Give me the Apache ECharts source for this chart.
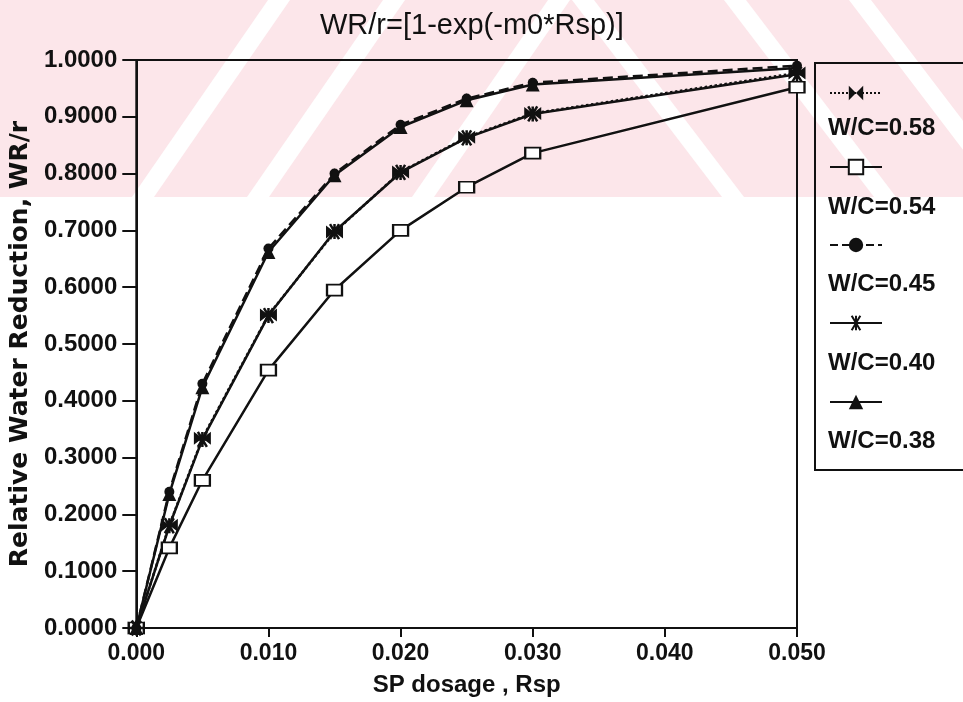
<!DOCTYPE html>
<html>
<head>
<meta charset="utf-8">
<script src="https://cdn.jsdelivr.net/npm/echarts@6/dist/echarts.min.js"></script>
<style>html,body{margin:0;padding:0;background:#fff}#c{width:963px;height:702px}</style>
</head>
<body>
<div id="c"></div>
<script>
// ---- data ----
const titleText = 'WR/r=[1-exp(-m0*Rsp)]';
const xAxisName = 'SP dosage , Rsp';
const yAxisName = 'Relative Water Reduction, WR/r';
const xValues = [0, 0.0025, 0.005, 0.01, 0.015, 0.02, 0.025, 0.03, 0.05];
const seriesNames = ['W/C=0.58', 'W/C=0.54', 'W/C=0.45', 'W/C=0.40', 'W/C=0.38'];
const wc058 = [0, 0.181, 0.334, 0.551, 0.697, 0.803, 0.864, 0.906, 0.977];
const wc054 = [0, 0.141, 0.260, 0.454, 0.595, 0.700, 0.776, 0.836, 0.952];
const wc045 = [0, 0.240, 0.430, 0.668, 0.800, 0.886, 0.932, 0.960, 0.990];
const wc040 = [0, 0.180, 0.332, 0.550, 0.698, 0.802, 0.863, 0.905, 0.975];
const wc038 = [0, 0.236, 0.424, 0.662, 0.797, 0.882, 0.929, 0.957, 0.986];
const xTicks = [0, 0.01, 0.02, 0.03, 0.04, 0.05];
const yTickStep = 0.1;

// ---- styles ----
const INK = '#111';
const FONT = 'Liberation Sans, Arial, sans-serif';
const bowtie = 'path://M0,0L10,5L0,10ZM20,0L10,5L20,10Z';
const asterisk = 'path://M0,5L10,5M2,0L8,10M8,0L2,10M5,0L5,10';
const seriesStyle = [
  {symbol: bowtie, symbolSize: [17, 13], type: 'dotted', fill: INK, bw: 0},
  {symbol: 'rect', symbolSize: [15, 11], type: 'solid', fill: '#fff', bw: 2},
  {symbol: 'circle', symbolSize: 10, type: 'dashed', fill: INK, bw: 0},
  {symbol: asterisk, symbolSize: [15, 15], type: 'solid', fill: INK, bw: 2.5},
  {symbol: 'triangle', symbolSize: 14, type: 'solid', fill: INK, bw: 0}
];
const seriesData = [wc058, wc054, wc045, wc040, wc038];

const series = seriesData.map((vals, i) => ({
  name: seriesNames[i],
  type: 'line',
  data: xValues.map((x, j) => [x, vals[j]]),
  symbol: seriesStyle[i].symbol,
  symbolSize: seriesStyle[i].symbolSize,
  showAllSymbol: true,
  lineStyle: {color: INK, width: 2.5, type: seriesStyle[i].type},
  itemStyle: {color: seriesStyle[i].fill, borderColor: INK, borderWidth: seriesStyle[i].bw, opacity: 1},
  emphasis: {disabled: true},
  animation: false,
  z: 3
}));

// legend rows (icon row y, text row y)
const legendSymY = [93, 167, 245, 323, 402];
const legendTextY = [128, 207, 284, 363, 441];
const legends = seriesNames.map((n, i) => ({
  data: [n],
  left: 829,
  top: legendSymY[i] - 9,
  itemWidth: 52,
  itemHeight: 18,
  selectedMode: false,
  formatter: () => '',
  textStyle: {fontSize: 1},
  padding: 0
}));

// watermark stripes (light pink band behind top of figure)
const PINK = '#fce6ea';
const WM_BOTTOM = 197;
const wm = [{type: 'rect', z: -10, silent: true, shape: {x: 0, y: 0, width: 963, height: WM_BOTTOM}, style: {fill: PINK}}];
const slashStripes = [[143, 279], [258, 394], [423, 559]]; // bottom x -> top x
slashStripes.forEach(s => wm.push({type: 'polygon', z: -9, silent: true,
  shape: {points: [[s[0] - 11, WM_BOTTOM], [s[0] + 11, WM_BOTTOM], [s[1] + 11, 0], [s[1] - 11, 0]]}, style: {fill: '#fff'}}));
const backStripes = [[583, 733], [735, 885], [860, 1010]]; // top x -> bottom x
backStripes.forEach(s => wm.push({type: 'polygon', z: -9, silent: true,
  shape: {points: [[s[0] - 11, 0], [s[0] + 11, 0], [s[1] + 11, WM_BOTTOM], [s[1] - 11, WM_BOTTOM]]}, style: {fill: '#fff'}}));

const graphics = wm.concat([
  {type: 'rect', z: 1, silent: true, shape: {x: 815, y: 63, width: 170, height: 407},
   style: {fill: 'transparent', stroke: INK, lineWidth: 2}}
]).concat(seriesNames.map((n, i) => ({
  type: 'text', z: 5, silent: true,
  style: {text: n, x: 828, y: legendTextY[i], textVerticalAlign: 'middle', fill: INK,
    font: 'bold 24px ' + FONT}
})));

const chart = echarts.init(document.getElementById('c'), null, {renderer: 'canvas'});
chart.setOption({
  animation: false,
  backgroundColor: 'transparent',
  title: {
    text: titleText, left: 320, top: 11, padding: 0,
    textStyle: {fontFamily: FONT, fontSize: 29, fontWeight: 'normal', color: INK}
  },
  legend: legends,
  grid: {left: 133, right: 166, top: 60, bottom: 74, show: true, borderColor: INK, borderWidth: 2, backgroundColor: 'transparent', containLabel: false},
  xAxis: {
    type: 'value', min: xTicks[0], max: xTicks[xTicks.length - 1], interval: 0.01,
    name: xAxisName, nameLocation: 'middle', nameGap: 45,
    nameTextStyle: {fontFamily: FONT, fontSize: 24, fontWeight: 'bold', color: INK},
    axisLine: {lineStyle: {color: INK, width: 2}},
    axisTick: {length: 9, lineStyle: {color: INK, width: 2}},
    axisLabel: {margin: 14, fontFamily: FONT, fontSize: 23, fontWeight: 'bold', color: INK, formatter: v => v.toFixed(3)},
    splitLine: {show: false}
  },
  yAxis: {
    type: 'value', min: 0, max: 1, interval: yTickStep,
    name: yAxisName, nameLocation: 'middle', nameGap: 97, nameRotate: 90,
    nameTextStyle: {fontFamily: 'DejaVu Sans', fontSize: 25, fontWeight: 'bold', color: INK},
    axisLine: {lineStyle: {color: INK, width: 2}},
    axisTick: {length: 14, lineStyle: {color: INK, width: 2}},
    axisLabel: {margin: 19, fontFamily: FONT, fontSize: 24, fontWeight: 'bold', color: INK, formatter: v => v.toFixed(4)},
    splitLine: {show: false}
  },
  graphic: {elements: graphics},
  series: series
});
</script>
</body>
</html>
